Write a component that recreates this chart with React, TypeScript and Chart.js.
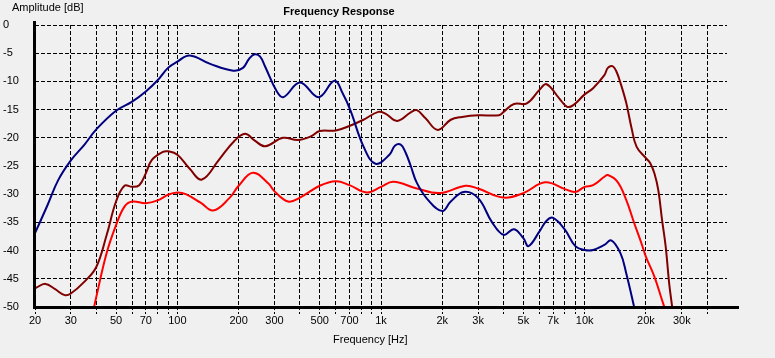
import React, { useEffect, useRef } from "react";
import { Chart, registerables } from "chart.js";

Chart.register(...registerables);

// ---- data ----
const gridFreqs = [
  20, 30, 40, 50, 60, 70, 80, 90,
  100, 200, 300, 400, 500, 600, 700, 800, 900,
  1000, 2000, 3000, 4000, 5000, 6000, 7000, 8000, 9000,
  10000, 20000, 30000, 40000,
];
const labelFreqs = [20, 30, 50, 70, 100, 200, 300, 500, 700, 1000, 2000, 3000, 5000, 7000, 10000, 20000, 30000];

const blueFreq = [20, 23, 26, 30, 35, 40, 50, 60, 70, 80, 90, 100, 115, 145, 188, 210, 225, 240, 255, 270, 308, 332, 400, 494, 591, 650, 707, 822, 940, 1100, 1170, 1250, 1320, 1400, 1500, 1700, 2000, 2200, 2550, 3000, 3500, 4000, 4500, 5000, 5300, 6000, 6500, 7000, 8000, 9000, 10000, 11000, 12500, 13500, 15000, 16000, 17500, 18500];
const blueDb = [-36.9, -32, -27.5, -24, -21.2, -18.5, -15.2, -13.6, -11.8, -9.8, -7.6, -6.5, -5.4, -6.9, -8.1, -7.6, -6.0, -5.2, -5.6, -7.4, -11.8, -12.8, -10.2, -12.8, -9.9, -12.2, -15.1, -21.6, -24.6, -23.0, -21.4, -21.2, -22.6, -25.0, -28.0, -31.0, -33.0, -31.3, -29.6, -30.7, -34.9, -37.2, -36.2, -37.8, -39.2, -36.6, -34.7, -34.2, -36.3, -39.2, -39.9, -39.9, -39.0, -38.2, -40.5, -44.0, -50.0, -54.0];

const darkRedFreq = [20, 22.5, 25, 28, 30, 35, 40, 45, 50, 55, 60, 65, 70, 75, 85, 90, 100, 115, 132, 160, 190, 215, 240, 270, 330, 390, 450, 500, 600, 700, 820, 970, 1050, 1200, 1400, 1500, 1650, 1900, 2200, 2500, 3000, 3800, 4000, 4500, 5200, 6000, 6500, 7500, 8200, 8800, 10000, 11000, 12500, 13000, 13700, 14300, 15000, 16000, 17000, 18000, 20000, 21000, 22000, 23000, 24000, 25000, 26000, 27000, 28000];
const darkRedDb = [-46.7, -45.9, -46.8, -47.9, -47.6, -45.5, -42.9, -37.2, -31.3, -28.5, -28.7, -28.4, -26.3, -23.9, -22.5, -22.4, -23.0, -25.5, -27.4, -23.9, -20.6, -19.3, -20.5, -21.5, -20.0, -20.4, -19.8, -18.8, -18.7, -17.9, -16.8, -15.4, -15.7, -17.0, -15.5, -15.1, -16.5, -18.6, -16.8, -16.3, -16.0, -16.0, -15.4, -14.0, -13.9, -11.5, -10.5, -13.0, -14.5, -14.2, -12.3, -11.2, -8.9, -7.6, -7.3, -8.2, -10.3, -13.8, -18.3, -21.6, -23.6, -24.5, -26.3, -29.3, -34.6, -39.3, -45.8, -50.5, -56];

const redFreq = [38, 40, 45, 50, 55, 60, 70, 80, 90, 100, 110, 130, 150, 180, 200, 235, 280, 300, 350, 400, 500, 600, 700, 850, 1000, 1150, 1500, 1950, 2600, 3000, 4000, 5000, 6400, 8000, 9000, 10000, 11000, 12500, 13000, 14500, 16000, 17500, 19000, 20000, 22000, 24000, 25000, 26000];
const redDb = [-52, -48.2, -40.4, -35.5, -32.2, -31.3, -31.6, -31.1, -30.1, -29.7, -30.0, -31.5, -32.9, -30.7, -28.5, -26.2, -28.1, -29.5, -31.3, -30.6, -28.5, -27.7, -28.4, -29.7, -28.7, -27.8, -29.0, -29.8, -28.5, -29.0, -30.6, -29.8, -27.9, -29.1, -29.6, -28.7, -28.4, -26.9, -26.6, -27.8, -31.0, -35.1, -38.7, -41.1, -44.6, -48.8, -50.8, -53];

const yMin = -50;
const yMax = 0;
const yStep = 5;

const toPoints = (fs: number[], ds: number[]) => fs.map((f, i) => ({ x: f, y: ds[i] }));
const fmtFreq = (v: number) => (v >= 1000 ? `${v / 1000}k` : `${v}`);

const FONT = '"Liberation Sans", Arial, sans-serif';

const decorPlugin = {
  id: "decor",
  beforeDraw(chart: any) {
    const ctx = chart.ctx;
    ctx.save();
    ctx.fillStyle = "#f0f0f0";
    ctx.fillRect(0, 0, chart.width, chart.height);
    ctx.restore();
  },
  afterDraw(chart: any) {
    const ctx = chart.ctx;
    const a = chart.chartArea;
    ctx.save();
    ctx.strokeStyle = "#000";
    ctx.lineWidth = 3;
    ctx.setLineDash([]);
    ctx.beginPath();
    ctx.moveTo(a.left - 0.5, a.top - 4);
    ctx.lineTo(a.left - 0.5, a.bottom + 2);
    ctx.moveTo(a.left - 2, a.bottom + 0.5);
    ctx.lineTo(a.right + 12, a.bottom + 0.5);
    ctx.stroke();

    ctx.fillStyle = "#000";
    ctx.textBaseline = "middle";
    ctx.font = `bold 11px ${FONT}`;
    ctx.textAlign = "center";
    ctx.fillText("Frequency Response", 339, 12);
    ctx.font = `11px ${FONT}`;
    ctx.textAlign = "left";
    ctx.fillText("Amplitude [dB]", 12, 8);
    ctx.fillText("Frequency [Hz]", 333, 340);
    ctx.restore();
  },
};

const lineStyle = {
  borderWidth: 2,
  pointRadius: 0,
  tension: 0.4,
  fill: false,
};

export default function App() {
  const ref = useRef<HTMLCanvasElement>(null);

  useEffect(() => {
    const chart = new Chart(ref.current as HTMLCanvasElement, {
      type: "line",
      data: {
        datasets: [
          { label: "Blue", data: toPoints(blueFreq, blueDb), borderColor: "#000080", ...lineStyle },
          { label: "Dark red", data: toPoints(darkRedFreq, darkRedDb), borderColor: "#800000", ...lineStyle },
          { label: "Red", data: toPoints(redFreq, redDb), borderColor: "#ff0000", ...lineStyle },
        ],
      },
      options: {
        animation: false,
        responsive: false,
        devicePixelRatio: 1,
        parsing: false as any,
        layout: { padding: { left: 3, right: 48, top: 25, bottom: 0 } },
        plugins: {
          legend: { display: false },
          title: { display: false },
          tooltip: { enabled: false },
        },
        scales: {
          x: {
            type: "logarithmic",
            position: "bottom",
            min: 20,
            max: 50000,
            afterBuildTicks: (scale: any) => {
              scale.ticks = gridFreqs.map((v) => ({ value: v }));
            },
            afterFit: (scale: any) => {
              scale.height = 51;
            },
            ticks: {
              autoSkip: false,
              maxRotation: 0,
              minRotation: 0,
              padding: 0,
              color: "#000",
              font: { family: FONT, size: 11 },
              callback: (v: any) => (labelFreqs.includes(Number(v)) ? fmtFreq(Number(v)) : ""),
            },
            grid: {
              color: (c: any) => (c.tick && c.tick.value === 20 ? "rgba(0,0,0,0)" : "#000"),
              lineWidth: 1,
              drawTicks: true,
              tickLength: 7,
              tickColor: "#000",
              tickBorderDash: [3, 2],
            },
            border: { display: false, dash: [4, 2] },
          },
          y: {
            type: "linear",
            min: yMin,
            max: yMax,
            afterFit: (scale: any) => {
              scale.width = 32;
            },
            ticks: {
              stepSize: yStep,
              crossAlign: "far",
              padding: 0,
              color: "#000",
              font: { family: FONT, size: 11 },
            },
            grid: {
              color: "#000",
              lineWidth: 1,
              drawTicks: false,
            },
            border: { display: false, dash: [4, 2] },
          },
        },
      },
      plugins: [decorPlugin],
    } as any);
    return () => chart.destroy();
  }, []);

  return (
    <div style={{ position: "fixed", left: 0, top: 0, width: 775, height: 358, background: "#f0f0f0" }}>
      <canvas ref={ref} width={775} height={358} style={{ display: "block", width: 775, height: 358 }} />
    </div>
  );
}
